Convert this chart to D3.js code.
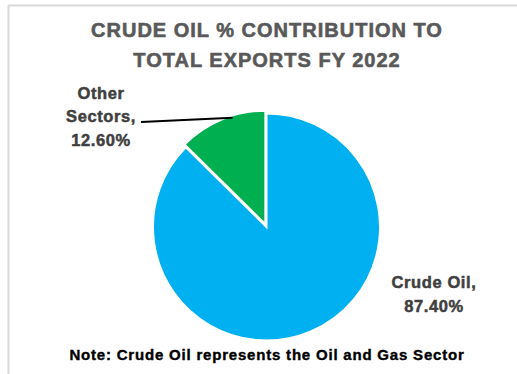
<!DOCTYPE html>
<html>
<head>
<meta charset="utf-8">
<script src="https://cdn.jsdelivr.net/npm/d3@7"></script>
<style>
  body { margin: 0; background: #fff; }
  text { font-family: "Liberation Sans", Arial, sans-serif; font-weight: bold; }
</style>
</head>
<body>
<svg width="517" height="374"></svg>
<script>
const categories = ['Crude Oil', 'Other Sectors'];
const values = [87.4, 12.6];
const labelLines = [['Crude Oil,', '87.40%'], ['Other', 'Sectors,', '12.60%']];
const titleLines = ['CRUDE OIL % CONTRIBUTION TO', 'TOTAL EXPORTS FY 2022'];
const note = 'Note: Crude Oil represents the Oil and Gas Sector';

const svg = d3.select('svg');
const width = +svg.attr('width');
const height = +svg.attr('height');

// chart frame (only top and left edges show in the crop)
svg.append('line').attr('x1', 8).attr('y1', 5.5).attr('x2', width).attr('y2', 5.5)
  .attr('stroke', '#d9d9d9').attr('stroke-width', 2);
svg.append('line').attr('x1', 8.5).attr('y1', 5).attr('x2', 8.5).attr('y2', height)
  .attr('stroke', '#d9d9d9').attr('stroke-width', 2);

// title
svg.append('g').selectAll('text').data(titleLines).join('text')
  .attr('x', 267).attr('y', (d, i) => 37 + i * 30)
  .attr('text-anchor', 'middle')
  .attr('font-size', 20)
  .attr('letter-spacing', 1)
  .attr('fill', '#595959')
  .attr('stroke', '#595959').attr('stroke-width', 0.6)
  .text(d => d);

const colour = d3.scaleOrdinal().domain(categories).range(['#00b0f0', '#00b050']);
const cx = 266.5, cy = 227, r = 113.5;

const pie = d3.pie().sort(null).value(d => d.value);
const arcs = pie(categories.map((c, i) => ({ name: c, value: values[i] })));
const arc = d3.arc().innerRadius(0).outerRadius(r);

const explode = [0, 3];   // Other Sectors slice is pulled out a little

const g = svg.append('g').attr('transform', `translate(${cx},${cy})`);
g.selectAll('path').data(arcs).join('path')
  .attr('d', arc)
  .attr('transform', (d, i) => {
    const a = (d.startAngle + d.endAngle) / 2;
    return `translate(${Math.sin(a) * explode[i]},${-Math.cos(a) * explode[i]})`;
  })
  .attr('fill', d => colour(d.data.name))
  .attr('stroke', '#fff')
  .attr('stroke-width', 2);

// data labels
const labelPos = [[434, 288], [101, 98.5]];
labelLines.forEach((lines, i) => {
  svg.append('text')
    .attr('x', labelPos[i][0]).attr('y', labelPos[i][1])
    .attr('text-anchor', 'middle')
    .attr('font-size', 16.5)
    .attr('letter-spacing', 0.6)
    .attr('fill', '#404040')
    .attr('stroke', '#404040').attr('stroke-width', 0.5)
    .selectAll('tspan').data(lines).join('tspan')
    .attr('x', labelPos[i][0])
    .attr('dy', (d, j) => j === 0 ? 0 : 23.7)
    .text(d => d);
});

// leader line for Other Sectors, ending on the slice edge
const other = arcs[1];
const a0 = other.startAngle + (other.endAngle - other.startAngle) * 0.62;
const edge = [cx + Math.sin(a0) * (r + 1), cy - Math.cos(a0) * (r + 1)];
svg.append('line')
  .attr('x1', 141).attr('y1', 122)
  .attr('x2', edge[0]).attr('y2', edge[1])
  .attr('stroke', '#000').attr('stroke-width', 2);

// note
svg.append('text')
  .attr('x', 267).attr('y', 360)
  .attr('text-anchor', 'middle')
  .attr('font-size', 15)
  .attr('letter-spacing', 0.8)
  .attr('fill', '#000')
  .attr('stroke', '#000').attr('stroke-width', 0.4)
  .text(note);
</script>
</body>
</html>
